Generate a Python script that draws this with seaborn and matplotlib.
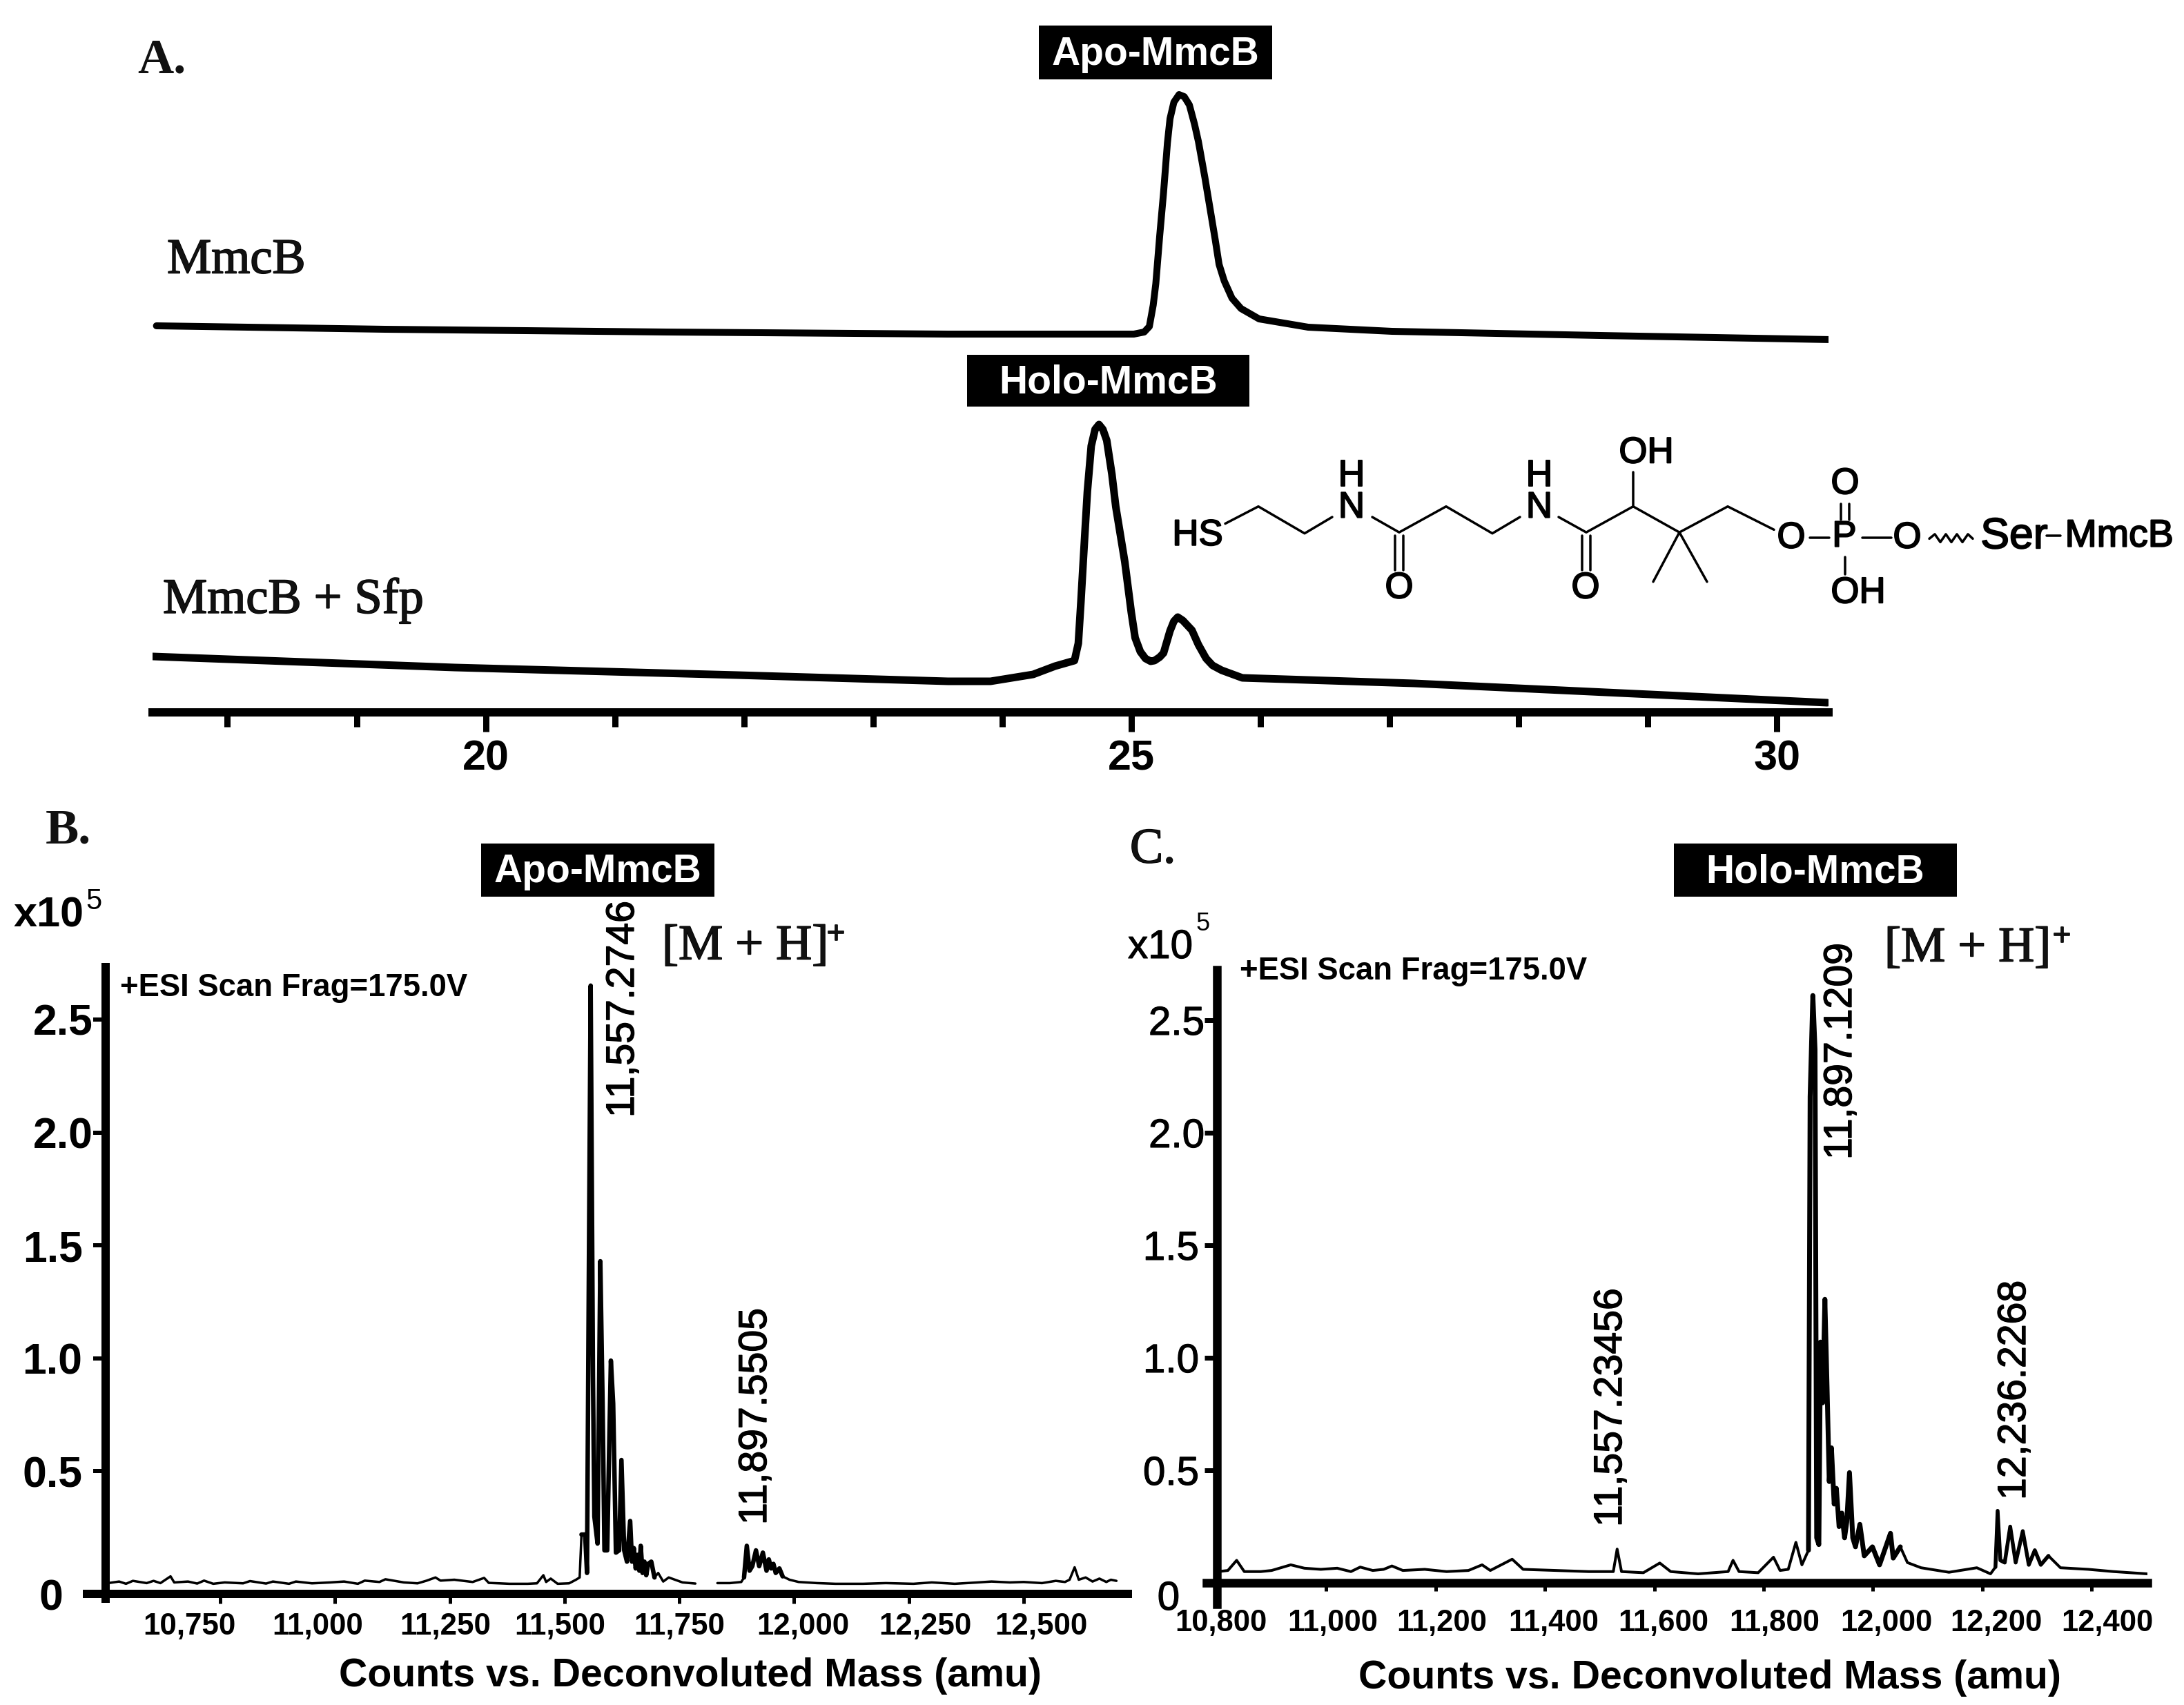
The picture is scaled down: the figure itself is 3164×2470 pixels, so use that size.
import matplotlib
matplotlib.use('AGG')
import matplotlib.pyplot as plt
import matplotlib.patheffects as pe
from matplotlib.transforms import ScaledTranslation
import seaborn as sns

# Panel A, retention time (min) and detector signal
apo_time = [17.45, 19.22, 21.4, 23.58, 25.02, 25.10, 25.14, 25.17, 25.19, 25.22, 25.25, 25.28, 25.30, 25.33,
            25.37, 25.41, 25.45, 25.49, 25.52, 25.57, 25.61, 25.65, 25.68, 25.72, 25.78, 25.85, 25.99,
            26.37, 27.02, 28.63, 30.42]
apo_signal = [560, 555, 551, 548, 548, 551, 559, 590, 621, 690, 753, 825, 860, 884,
              895, 892, 880, 852, 827, 775, 730, 685, 649, 625, 600, 585, 570,
              558, 552, 546, 540]
holo_time = [17.42, 19.76, 21.95, 23.58, 23.91, 24.24, 24.41, 24.56, 24.59, 24.61, 24.63, 24.66, 24.69, 24.72,
             24.75, 24.78, 24.81, 24.85, 24.88, 24.95, 25.00, 25.03, 25.07, 25.11, 25.15, 25.18, 25.22,
             25.25, 25.30, 25.33, 25.36, 25.40, 25.47, 25.52, 25.58, 25.63, 25.70, 25.86,
             27.19, 30.39]
holo_signal = [81, 65, 54, 45, 45, 55, 67, 75, 100, 160, 225, 320, 386, 410,
               417, 410, 394, 345, 298, 218, 145, 108, 88, 78, 74, 75, 80,
               86, 118, 132, 138, 133, 119, 98, 78, 68, 61, 50,
               42, 14]
a_ticks = [18, 19, 20, 21, 22, 23, 24, 25, 26, 27, 28, 29, 30]
a_major = [20, 25, 30]

# Panel B, apo spectrum (broken where the trace fades out near 11,800)
b_mass_1 = [10506, 10530, 10545, 10560, 10590, 10605, 10620, 10642, 10650, 10680, 10700, 10715,
            10735, 10760, 10800, 10815, 10850, 10865, 10900, 10915, 10950, 10990, 11020, 11050,
            11065, 11097, 11110, 11150, 11180, 11200, 11219, 11230, 11260, 11300, 11325, 11335,
            11380, 11420, 11440, 11454, 11460, 11470, 11485, 11510, 11525,
            11533, 11537, 11545, 11549, 11554, 11557, 11562, 11565, 11572, 11578, 11583, 11587,
            11593, 11601, 11606, 11612, 11619, 11624, 11630, 11636, 11643, 11647, 11651, 11655, 11659, 11663, 11666,
            11670, 11674, 11678, 11682, 11689, 11696, 11704, 11715, 11727, 11757, 11785]
b_count_1 = [.005, .012, .002, .015, .005, .015, .005, .035, .008, .012, .003, .016,
             .002, .008, .004, .014, .003, .012, .002, .012, .004, .008, .012, .002,
             .016, .01, .022, .008, .004, .016, .03, .016, .02, .01, .028, .006,
             .002, .002, .004, .04, .01, .025, .002, .004, .02,
             .03, .22, .22, .05, 1.7, 2.65, .92, .3, .18, 1.43, .8, .15,
             .15, .99, .8, .14, .15, .55, .15, .1, .28, .1, .16, .07, .13, .06, .17,
             .05, .1, .04, .09, .1, .03, .05, .012, .03, .008, .003]
b_mass_2 = [11833, 11860, 11885, 11891, 11897, 11903, 11909, 11917, 11924, 11932, 11940, 11945, 11950,
            11955, 11960, 11968, 11975, 11990, 12010, 12050, 12090, 12150, 12200, 12260, 12300, 12350, 12400,
            12430, 12470, 12500, 12540, 12570, 12590, 12600, 12611, 12620, 12635, 12650, 12665,
            12680, 12690, 12702]
b_count_2 = [.005, .005, .01, .03, .17, .06, .08, .15, .08, .14, .06, .11, .07,
             .09, .05, .07, .035, .02, .01, .005, .002, .002, .005, .002, .008, .002, .008,
             .012, .008, .01, .005, .015, .01, .02, .075, .02, .03, .012, .025,
             .01, .02, .015]
b_xticks = [10750, 11000, 11250, 11500, 11750, 12000, 12250, 12500]
b_yticks = [0, 0.5, 1.0, 1.5, 2.0, 2.5]

# Panel C, holo spectrum
c_mass = [10802, 10820, 10836, 10850, 10880, 10900, 10935, 10960, 10990, 11020, 11045, 11062,
          11085, 11105, 11120, 11140, 11180, 11220, 11260, 11285, 11300, 11340, 11360, 11420,
          11480, 11525, 11532, 11540, 11580, 11610, 11630, 11680, 11735, 11744, 11755, 11790,
          11818, 11830, 11845, 11859, 11870, 11882, 11885, 11890, 11894, 11897, 11901, 11904,
          11908, 11912, 11916, 11920, 11924, 11929, 11933, 11938, 11943, 11948, 11952, 11957, 11963, 11968, 11976,
          11984, 11999, 12012, 12032, 12037, 12050, 12063, 12088, 12139, 12190, 12215, 12224,
          12228, 12233, 12241, 12251, 12261, 12274, 12285, 12296, 12307, 12321, 12343, 12394,
          12440, 12502]
c_count = [.05, .055, .10, .05, .05, .055, .08, .065, .06, .065, .05, .07,
           .055, .06, .075, .055, .06, .05, .055, .08, .055, .105, .06, .055,
           .05, .05, .15, .05, .045, .088, .05, .04, .05, .10, .05, .045,
           .114, .055, .06, .18, .08, .145, 2.16, 2.61, 2.37, .2, .17, 1.07,
           .8, 1.26, .87, .45, .6, .35, .42, .25, .31, .2, .27, .49, .2, .16, .26,
           .12, .16, .08, .22, .11, .16, .09, .067, .047, .067, .04, .07,
           .32, .1, .09, .25, .09, .23, .08, .145, .08, .12, .067, .06,
           .05, .04]
c_xticks = [10800, 11000, 11200, 11400, 11600, 11800, 12000, 12200, 12400]
c_yticks = [0, 0.5, 1.0, 1.5, 2.0, 2.5]

W, H = 3164, 2470
DPI = 200
PT = 72 / DPI  # one pixel in points
SERIF = 'Liberation Serif'

sns.set_theme(style='white')
plt.rcParams['font.family'] = ['Liberation Sans', 'DejaVu Sans']
plt.rcParams['axes.facecolor'] = 'none'

fig = plt.figure(figsize=(W / DPI, H / DPI), dpi=DPI, facecolor='white')


def heavy(text, width=0.5):
    # the scanned lettering is heavier than the regular weight
    text.set_path_effects([pe.withStroke(linewidth=width, foreground='black')])
    return text


def axes_px(left, top, right, bottom):
    return fig.add_axes([left / W, 1 - bottom / H, (right - left) / W, (bottom - top) / H])


def trace(ax, x, y, width):
    sns.lineplot(x=x, y=y, ax=ax, color='black', linewidth=width * PT, estimator=None,
                 sort=False, legend=False, solid_joinstyle='round')


def cluster(ax, x, y, low, high, width):
    # the peak clusters print darker than the baseline
    keep = [i for i, v in enumerate(x) if low <= v <= high]
    trace(ax, [x[i] for i in keep], [y[i] for i in keep], width)


def clean(ax, spine_px):
    ax.set(xlabel='', ylabel='')
    sns.despine(ax=ax)
    for side in ['left', 'bottom']:
        ax.spines[side].set_linewidth(spine_px * PT)
        ax.spines[side].set_color('black')


def shift(ticks, dx, dy):
    # the labels in the figure do not sit exactly on their ticks
    for tick, a, b in zip(ticks, dx, dy):
        lab = tick.label1
        lab.set_transform(lab.get_transform() + ScaledTranslation(a / DPI, b / DPI, fig.dpi_scale_trans))


# Overlay in pixels for the annotations and the structure
ov = fig.add_axes([0, 0, 1, 1], zorder=5)
ov.set_xlim(0, W)
ov.set_ylim(H, 0)
ov.axis('off')


def box(left, top, right, bottom, label):
    ov.fill_between([left, right], top, bottom, color='black', lw=0)
    ov.text((left + right) / 2, (top + bottom) / 2 + 3, label, color='white', fontsize=20.5,
            fontweight='bold', ha='center', va='center')


def serif(x, y, label, size=26, weight='normal', ha='left'):
    t = ov.text(x, y, label, family=SERIF, fontsize=size, fontweight=weight, ha=ha, va='center', color='#111111')
    if weight == 'normal':
        heavy(t, 0.6)


def rotated(x, y_bottom, label, size=20.6):
    heavy(ov.text(x, y_bottom, label, rotation=90, fontsize=size, ha='center', va='bottom', color='black'), 0.5)


# ---- Panel A ----
ax_a = axes_px(221, 100, 2649, 1032)
trace(ax_a, apo_time, apo_signal, 10)
trace(ax_a, holo_time, holo_signal, 11)
clean(ax_a, 12)
ax_a.spines['left'].set_visible(False)
ax_a.set_xlim(17.42, 30.4)
ax_a.set_ylim(0, 932)
ax_a.set_yticks([])
ax_a.set_xticks(a_ticks)
ax_a.set_xticklabels([str(t) if t in a_major else '' for t in a_ticks], fontsize=22, fontweight='bold')
ax_a.tick_params(axis='x', bottom=True, length=21 * PT, width=9 * PT, color='black', pad=6.5, labelcolor='black')
for tick, t in zip(ax_a.xaxis.get_major_ticks(), a_ticks):
    if t in a_major:
        tick.tick1line.set_markersize(28 * PT)

serif(199, 88, 'A.', weight='bold')
serif(242, 378, 'MmcB')
serif(236, 870, 'MmcB + Sfp')
box(1505, 37, 1843, 115, 'Apo-MmcB')
box(1401, 514, 1810, 589, 'Holo-MmcB')

# ---- Panel B ----
ax_b = axes_px(126, 1401, 1634, 2316)
trace(ax_b, b_mass_1, b_count_1, 3.5)
trace(ax_b, b_mass_2, b_count_2, 3.5)
cluster(ax_b, b_mass_1, b_count_1, 11537, 11700, 6.5)
cluster(ax_b, b_mass_2, b_count_2, 11891, 11975, 6.5)
clean(ax_b, 12)
ax_b.set_xlim(10460, 12727)
ax_b.set_ylim(-0.064, 2.732)
ax_b.spines['left'].set_position(('data', 10500))
ax_b.spines['bottom'].set_position(('data', -0.043))
ax_b.set_xticks(b_xticks)
ax_b.set_xticklabels([f'{v:,}' for v in b_xticks], fontsize=15.8, fontweight='bold')
ax_b.set_yticks(b_yticks)
ax_b.set_yticklabels(['0', '0.5', '1.0', '1.5', '2.0', '2.5'], fontsize=22.5, fontweight='bold')
ax_b.tick_params(axis='x', bottom=True, length=14 * PT, width=5 * PT, pad=4.5, color='black', labelcolor='black')
ax_b.tick_params(axis='y', left=True, length=18 * PT, width=6 * PT, pad=0, color='black', labelcolor='black')
shift(ax_b.xaxis.get_major_ticks(), [-45, -25, -6, -7, 0, 13, 24, 25], [0] * 8)
shift(ax_b.yaxis.get_major_ticks(), [-43, -15, -15, -15, 0, 0], [-14, 0, 0, 0, 0, 0])
ax_b.yaxis.get_major_ticks()[0].tick1line.set_visible(False)
ax_b.set_xlabel('Counts vs. Deconvoluted Mass (amu)', fontsize=20.6, fontweight='bold', color='black')
ax_b.xaxis.set_label_coords(1000, 2428, transform=ov.transData)
ax_b.xaxis.label.set_va('center')

serif(66, 1204, 'B.', weight='bold')
box(697, 1222, 1035, 1299, 'Apo-MmcB')
serif(959, 1372, '[M + H]')
serif(1198, 1355, '+', size=17)
ov.text(20, 1327, 'x10', fontsize=22, fontweight='bold', va='center', color='black')
ov.text(124, 1306, '5', fontsize=15, va='center', color='black')
ov.text(174, 1431, '+ESI Scan Frag=175.0V', fontsize=16.4, fontweight='bold', va='center', color='black')
rotated(903, 1619, '11,557.2746')
rotated(1095, 2209, '11,897.5505')

# ---- Panel C ----
ax_c = axes_px(1748, 1405, 3111, 2324)
trace(ax_c, c_mass, c_count, 4)
cluster(ax_c, c_mass, c_count, 11882, 12050, 7)
cluster(ax_c, c_mass, c_count, 12224, 12330, 5.5)
clean(ax_c, 12.5)
ax_c.set_xlim(10781, 12502)
ax_c.set_ylim(-0.095, 2.724)
ax_c.spines['left'].set_position(('data', 10800))
ax_c.spines['bottom'].set_position(('data', 0))
ax_c.set_xticks(c_xticks)
ax_c.set_xticklabels([f'{v:,}' for v in c_xticks], fontsize=15.7, fontweight='bold')
ax_c.set_yticks(c_yticks)
ax_c.set_yticklabels(['0', '0.5', '1.0', '1.5', '2.0', '2.5'], fontsize=21)
for lab in ax_c.get_yticklabels():
    heavy(lab, 0.4)
ax_c.tick_params(axis='x', bottom=True, length=12 * PT, width=5 * PT, pad=9.5, color='black', labelcolor='black')
ax_c.tick_params(axis='y', left=True, length=18 * PT, width=7 * PT, pad=0, color='black', labelcolor='black')
shift(ax_c.xaxis.get_major_ticks(), [6, 9, 9, 12, 13, 16, 19, 20, 23], [0] * 9)
shift(ax_c.yaxis.get_major_ticks(), [-36, -8, -8, -8, 0, 0], [-18, 0, 0, 0, 0, 0])
ax_c.set_xlabel('Counts vs. Deconvoluted Mass (amu)', fontsize=20.6, fontweight='bold', color='black')
ax_c.xaxis.set_label_coords(2477, 2431, transform=ov.transData)
ax_c.xaxis.label.set_va('center')

serif(1637, 1232, 'C.')
box(2425, 1222, 2835, 1299, 'Holo-MmcB')
serif(2730, 1375, '[M + H]')
serif(2974, 1358, '+', size=17)
heavy(ov.text(1634, 1373, 'x10', fontsize=21, va='center', color='black'), 0.4)
ov.text(1732, 1338, '5', fontsize=13, va='center', color='black')
ov.text(1796, 1407, '+ESI Scan Frag=175.0V', fontsize=16.4, fontweight='bold', va='center', color='black')
rotated(2667, 1680, '11,897.1209')
rotated(2334, 2212, '11,557.23456')
rotated(2919, 2173, '12,236.2268')


# ---- Structure, coordinates from the zoomed crop of the figure ----
def sx(v):
    return v + 1600


def sy(v):
    return v / 2.613 + 550


bonds = [
    [(175, 545), (223, 480), (290, 582), (330, 520)],
    [(388, 520), (427, 578), (495, 480), (562, 582), (602, 520)],
    [(658, 520), (698, 578), (766, 480), (833, 578), (903, 480), (970, 568)],
    [(766, 350), (766, 480)],
    [(421, 590), (421, 720)], [(433, 590), (433, 720)],
    [(692, 590), (692, 720)], [(704, 590), (704, 720)],
    [(833, 578), (795, 765)], [(833, 578), (873, 765)],
    [(1022, 598), (1050, 598)], [(1098, 598), (1140, 598)],
    [(1067, 470), (1067, 530)], [(1079, 470), (1079, 530)],
    [(1073, 672), (1073, 738)],
    [(1365, 590), (1385, 590)],
    [(1195, 602), (1203, 585), (1211, 615), (1219, 585), (1227, 615), (1235, 585), (1243, 615), (1251, 585), (1258, 602)],
]
for bond in bonds:
    ov.plot([sx(p[0]) for p in bond], [sy(p[1]) for p in bond], color='black', lw=3.5 * PT)

atoms = [(135, 590, 'HS', 19), (358, 485, 'N', 19), (358, 365, 'H', 19), (630, 485, 'N', 19), (630, 365, 'H', 19),
         (785, 278, 'OH', 19), (427, 790, 'O', 19), (697, 790, 'O', 19), (995, 600, 'O', 19), (1072, 595, 'P', 19),
         (1163, 600, 'O', 19), (1073, 395, 'O', 19), (1092, 808, 'OH', 19), (1318, 595, 'Ser', 22.5), (1470, 595, 'MmcB', 20)]
for ax_x, ax_y, name, size in atoms:
    heavy(ov.text(sx(ax_x), sy(ax_y), name, fontsize=size, ha='center', va='center', color='black'), 0.7)

fig.savefig('out.png', dpi=DPI)
plt.close(fig)
